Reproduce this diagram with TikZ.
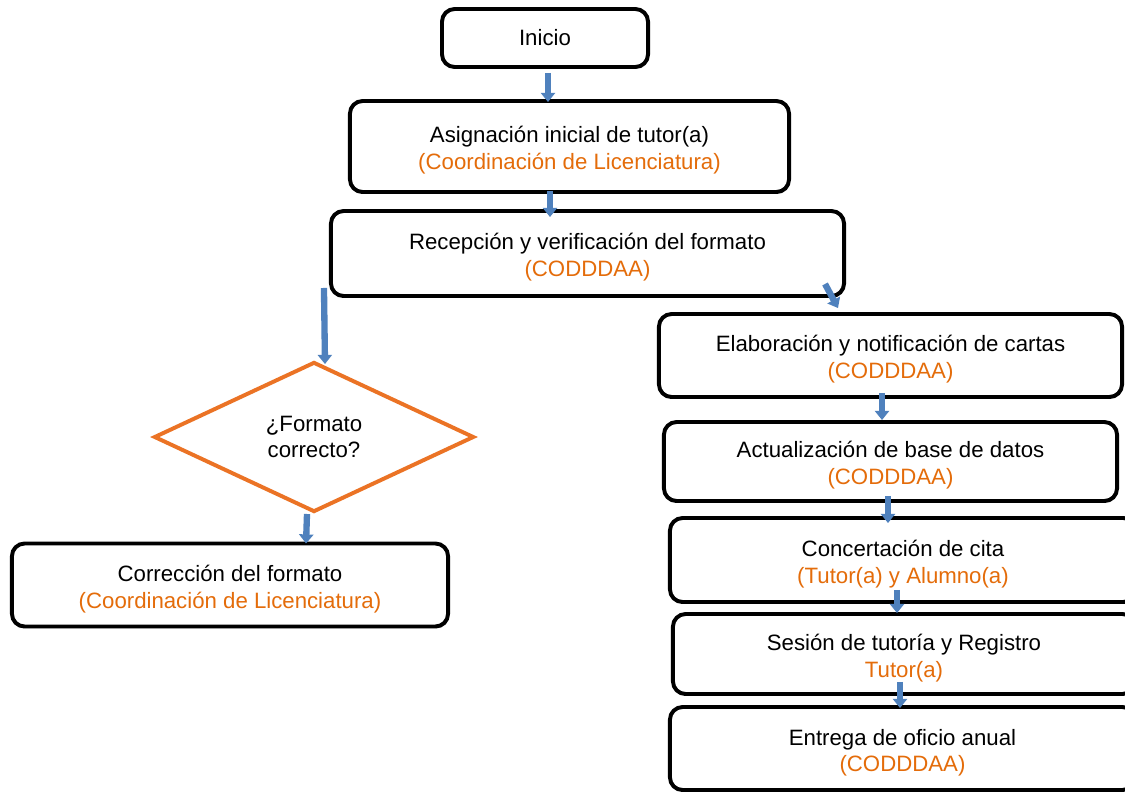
\documentclass[tikz,border=0pt]{standalone}
\usepackage{fontspec}
\setmainfont{Liberation Sans}
\usetikzlibrary{arrows.meta,shapes.geometric,shadows}
\definecolor{naranja}{HTML}{E46C0A}
\definecolor{rombo}{HTML}{EB7325}
\definecolor{azulflecha}{HTML}{4F81BD}
\tikzset{
	caja/.style={draw=black, line width=2.8pt, rounded corners=9pt, fill=white, align=center,
		drop shadow={opacity=0.25, shadow xshift=0.8pt, shadow yshift=-1.4pt}},
	caja2/.style={caja, text height=33pt, text depth=0pt},
	decision/.style={diamond, draw=rombo, line width=2.8pt, fill=white, align=center, inner sep=0pt},
	flecha/.style={draw=azulflecha, line width=4.5pt, -{Triangle[width=10pt,length=6.5pt]}},
}
\newcommand{\resp}[1]{\textcolor{naranja}{#1}}
\begin{document}
\begin{tikzpicture}[x=0.025cm, y=-0.025cm, font=\fontsize{15.8}{19}\selectfont]
	\useasboundingbox (0,0) rectangle (1125,792);
	% columna central
	\node[caja, minimum width=5.15cm, minimum height=1.45cm] (inicio) at (545,38) {Inicio};
	\node[caja2, minimum width=10.975cm, minimum height=2.275cm] (asig) at (569.5,146.5)
		{Asignación inicial de tutor(a)\\\resp{(Coordinación de Licenciatura)}};
	\node[caja2, minimum width=12.825cm, minimum height=2.125cm] (recep) at (587.5,253.5)
		{Recepción y verificación del formato\\\resp{(CODDDAA)}};
	% rama izquierda
	\node[decision, minimum width=8cm, minimum height=3.75cm] (formato) at (314,437)
		{¿Formato\\correcto?};
	\node[caja2, minimum width=10.9cm, minimum height=2.075cm] (correc) at (230,585)
		{Corrección del formato\\\resp{(Coordinación de Licenciatura)}};
	% rama derecha
	\node[caja2, minimum width=11.575cm, minimum height=2.075cm] (elab) at (890.5,355.5)
		{Elaboración y notificación de cartas\\\resp{(CODDDAA)}};
	\node[caja2, minimum width=11.325cm, minimum height=1.975cm] (actual) at (890.5,461.5)
		{Actualización de base de datos\\\resp{(CODDDAA)}};
	\node[caja2, minimum width=11.65cm, minimum height=2.1cm] (concert) at (903,560)
		{Concertación de cita\\\resp{(Tutor(a) y Alumno(a)}};
	\node[caja2, minimum width=11.55cm, minimum height=2cm] (sesion) at (904,654)
		{Sesión de tutoría y Registro\\\resp{Tutor(a)}};
	\node[caja2, minimum width=11.625cm, minimum height=2.075cm] (entrega) at (902.5,748.5)
		{Entrega de oficio anual\\\resp{(CODDDAA)}};
	% flechas
	\draw[flecha] ([shift={(3,4)}]inicio.south) -- ([shift={(-21.5,3)}]asig.north);
	\draw[flecha] ([shift={(-19.5,-3)}]asig.south) -- ([shift={(-37.5,8)}]recep.north);
	\draw[flecha] ([shift={(-5,-10)}]recep.south west) -- ([shift={(11,4)}]formato.north);
	\draw[flecha] ([shift={(-21,-14)}]recep.south east) -- ([shift={(-52.5,-4)}]elab.north);
	\draw[flecha] ([shift={(-7,0)}]formato.south) -- ([shift={(76,2)}]correc.north);
	\draw[flecha] ([shift={(-8.5,-6)}]elab.south) -- ([shift={(-8.5,0)}]actual.north);
	\draw[flecha] ([shift={(-2.5,-7)}]actual.south) -- ([shift={(-15,7)}]concert.north);
	\draw[flecha] ([shift={(-6,-14)}]concert.south) -- ([shift={(-7,1)}]sesion.north);
	\draw[flecha] ([shift={(-4,-14)}]sesion.south) -- ([shift={(-2.5,3)}]entrega.north);
\end{tikzpicture}
\end{document}
